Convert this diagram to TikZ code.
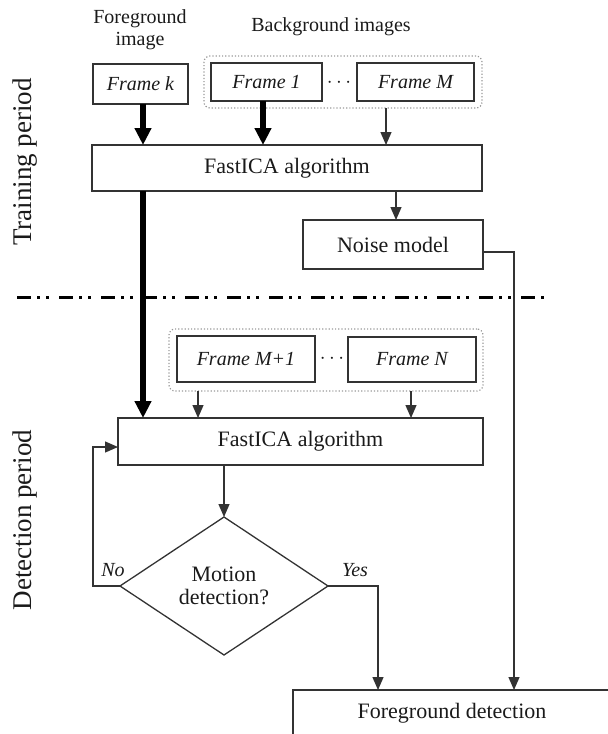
\documentclass[tikz,border=0pt]{standalone}
\usepackage{fontspec}
\setmainfont{Liberation Serif}
\usetikzlibrary{arrows.meta,shapes.geometric}
\newcommand\fsz[1]{\fontsize{#1}{#1}\selectfont}
\definecolor{boxc}{HTML}{333333}
\definecolor{txtc}{HTML}{1A1A1A}
\tikzset{
  box/.style={draw=boxc, line width=1.3pt, inner sep=0pt, outer sep=0pt, text=txtc, font=\fsz{22}},
  framebox/.style={box, font=\fsz{20}\itshape},
  grp/.style={draw=gray!80, dotted, line width=1.2pt, rounded corners=6pt, inner sep=0pt, outer sep=0pt},
  plain/.style={inner sep=0pt, outer sep=0pt, text=txtc},
  conn/.style={draw=boxc, line width=1.3pt},
  thinarr/.style={conn, -{Triangle[length=13pt,width=11pt]}},
  thickarr/.style={draw=black, line width=5.5pt, -{Triangle[length=17pt,width=16pt]}},
}
\begin{document}
\begin{tikzpicture}[x=1pt,y=-1pt]
\useasboundingbox (0,0) rectangle (608,734);
\clip (0,0) rectangle (608,734);

% column helpers
\coordinate (cM) at (386,0);
\coordinate (cA) at (198,0);
\coordinate (cB) at (411,0);
\coordinate (cT) at (143,0);
\coordinate (c1) at (263,0);
\coordinate (cF) at (93,0);
\coordinate (cY) at (378,0);
\coordinate (cN) at (514,0);
\coordinate (cQ) at (396,0);
\coordinate (rN) at (0,252);
\coordinate (rF) at (0,447);

% headings
\node[plain, font=\fsz{20}, align=center] (hfg) at (140,30) {Foreground\\[2pt]image};
\node[plain, font=\fsz{20}] (hbg) at (331,27) {Background images};
\node[plain, font=\fsz{27}, rotate=90] (ltr) at (25,162) {Training period};
\node[plain, font=\fsz{27}, rotate=90] (ldt) at (25,520) {Detection period};

% training
\node[grp, minimum width=278pt, minimum height=52pt] (g1) at (343,82) {};
\node[framebox, minimum width=95pt, minimum height=40pt] (fk) at (140.5,84) {Frame k};
\node[framebox, minimum width=111pt, minimum height=38pt] (f1) at (266.5,82) {Frame 1};
\node[framebox, minimum width=117pt, minimum height=38pt] (fM) at (415.5,82) {Frame M};
\node[plain, font=\fsz{20}] (d1) at (339,83) {$\cdots$};
\node[box, minimum width=390pt, minimum height=46pt] (fica1) at (287,168) {FastICA algorithm};
\node[box, minimum width=180pt, minimum height=49pt] (noise) at (393,244.5) {Noise model};

% separator
\coordinate (sepL) at (17,297);
\coordinate (sepR) at (549,297);
\draw[black, line width=3pt, dash pattern=on 14pt off 6pt on 3pt off 6pt on 3pt off 10pt] (sepL) -- (sepR);

% detection
\node[grp, minimum width=314pt, minimum height=62pt] (g2) at (326,360) {};
\node[framebox, minimum width=138pt, minimum height=46pt] (fm1) at (246,359) {Frame M+1};
\node[framebox, minimum width=128pt, minimum height=45pt] (fN) at (412,359.5) {Frame N};
\node[plain, font=\fsz{20}] (d2) at (332,359) {$\cdots$};
\node[box, minimum width=365pt, minimum height=47pt] (fica2) at (300.5,441.5) {FastICA algorithm};
\node[box, shape=diamond, align=center, minimum width=208pt, minimum height=138pt, aspect=1.5] (dia) at (224,586) {Motion\\[1pt]detection?};
\node[box, anchor=north west, minimum width=318pt, minimum height=46pt] (fg) at (293,690) {Foreground detection};

% connectors
\draw[thickarr] (fk.south -| cT) -- (fica1.north -| cT);
\draw[thickarr] (f1.south -| c1) -- (fica1.north -| c1);
\draw[thinarr] (g1.south -| cM) -- (fica1.north -| cM);
\draw[thinarr] (fica1.south -| cQ) -- (noise.north -| cQ);
\draw[thickarr] (fica1.south -| cT) -- (fica2.north -| cT);
\draw[thinarr] (g2.south -| cA) -- (fica2.north -| cA);
\draw[thinarr] (g2.south -| cB) -- (fica2.north -| cB);
\draw[thinarr] (fica2.south -| dia.north) -- (dia.north);
\draw[thinarr] (dia.west) -- (dia.west -| cF) -- (rF -| cF) -- (rF -| fica2.west);
\draw[thinarr] (dia.east) -| (fg.north -| cY);
\draw[thinarr] (noise.east |- rN) -| (fg.north -| cN);

% branch labels
\node[plain, font=\fsz{20}\itshape] (lno) at (113,570) {No};
\node[plain, font=\fsz{20}\itshape] (lyes) at (355,570) {Yes};
\end{tikzpicture}
\end{document}
